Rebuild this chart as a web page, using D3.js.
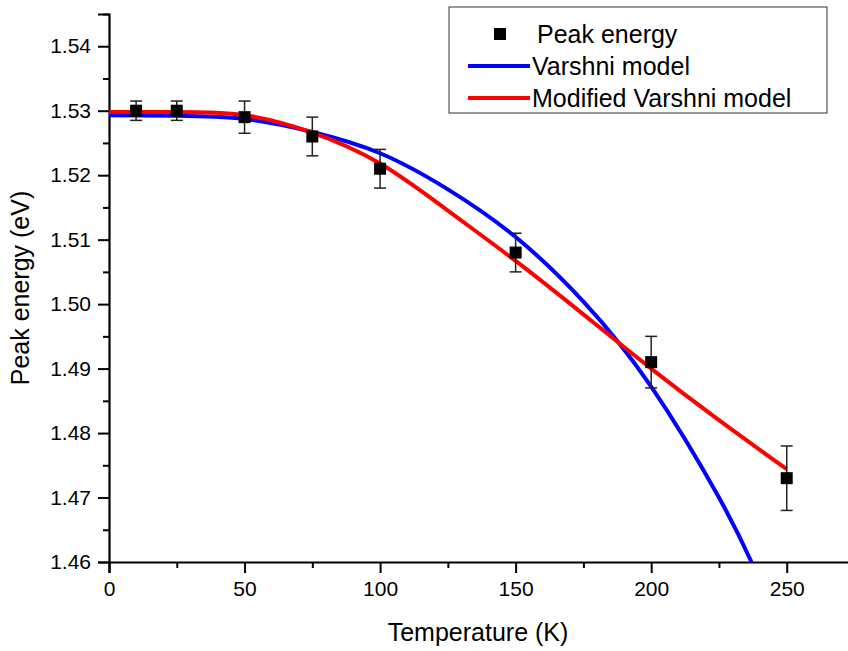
<!DOCTYPE html>
<html>
<head>
<meta charset="utf-8">
<script src="https://cdn.jsdelivr.net/npm/d3@7"></script>
<style>
  body { margin: 0; background: #fff; }
  svg { font-family: Arial, "Liberation Sans", sans-serif; }
</style>
</head>
<body>
<div id="chart"></div>
<script>
// measured peak energies with error bars
const temps = [10, 25, 50, 75, 100, 150, 200, 250];
const peakEnergy = [1.530, 1.530, 1.529, 1.526, 1.521, 1.508, 1.491, 1.473];
const peakErr = [0.0015, 0.0015, 0.0025, 0.003, 0.003, 0.003, 0.004, 0.005];

// fitted curves
const varshniT = [0, 25, 50, 75, 100, 125, 150, 175, 200, 225, 237];
const varshniE = [1.5293, 1.5292, 1.5287, 1.5267, 1.5234, 1.5178, 1.5104, 1.5004,
  1.4872, 1.4700, 1.4600];
const modT = [0, 25, 50, 75, 100, 125, 150, 175, 200, 225, 250];
const modE = [1.5298, 1.5298, 1.5293, 1.5266, 1.5218, 1.5145, 1.5067, 1.4984,
  1.4900, 1.4820, 1.4744];

const xTicks = [0, 50, 100, 150, 200, 250];
const yTicks = [1.46, 1.47, 1.48, 1.49, 1.50, 1.51, 1.52, 1.53, 1.54];

const legendItems = [
  { label: "Peak energy", type: "square", color: "#000" },
  { label: "Varshni model", type: "line", color: "#0000ff" },
  { label: "Modified Varshni model", type: "line", color: "#ff0000" },
];

const width = 848, height = 651;

const svg = d3.select("#chart").append("svg")
  .attr("width", width)
  .attr("height", height);

const x = d3.scaleLinear().domain([0, 275]).range([109, 854.5]);
const y = d3.scaleLinear().domain([1.46, 1.545]).range([562, 14]);

// axes
const xMinor = d3.range(0, 276, 25).filter(d => d % 50 !== 0);
const yMinor = d3.range(1.465, 1.546, 0.01);

const gx = svg.append("g").attr("transform", `translate(0,${y(1.46)})`);
gx.call(d3.axisBottom(x).tickValues(xTicks).tickSize(11).tickPadding(8).tickFormat(d3.format("d")));
gx.append("g").call(d3.axisBottom(x).tickValues(xMinor).tickSize(6).tickFormat(""))
  .select(".domain").remove();

const gy = svg.append("g").attr("transform", `translate(${x(0)},0)`);
gy.call(d3.axisLeft(y).tickValues(yTicks).tickSize(11).tickPadding(7).tickFormat(d3.format(".2f")));
gy.append("g").call(d3.axisLeft(y).tickValues(yMinor).tickSize(6).tickFormat(""))
  .select(".domain").remove();

svg.selectAll(".domain").attr("stroke", "#000").attr("stroke-width", 2.2);
svg.selectAll(".tick line").attr("stroke", "#000").attr("stroke-width", 2);
svg.selectAll(".tick text")
  .attr("fill", "#000")
  .style("font-size", "21px")
  .style("font-family", "Arial, 'Liberation Sans', sans-serif");

// axis titles
svg.append("text")
  .attr("x", 478)
  .attr("y", 641)
  .attr("text-anchor", "middle")
  .style("font-size", "25px")
  .text("Temperature (K)");

svg.append("text")
  .attr("transform", `translate(29,${y(1.5025)}) rotate(-90)`)
  .attr("text-anchor", "middle")
  .style("font-size", "25px")
  .text("Peak energy (eV)");

// curves
const line = d3.line()
  .x(d => x(d[0]))
  .y(d => y(d[1]))
  .curve(d3.curveNatural);

svg.append("path")
  .datum(d3.zip(varshniT, varshniE))
  .attr("fill", "none")
  .attr("stroke", "#0000ff")
  .attr("stroke-width", 4)
  .attr("d", line);

svg.append("path")
  .datum(d3.zip(modT, modE))
  .attr("fill", "none")
  .attr("stroke", "#ff0000")
  .attr("stroke-width", 4)
  .attr("d", line);

// error bars + markers
const pts = temps.map((t, i) => ({ t, e: peakEnergy[i], err: peakErr[i] }));
const capW = 6;

const eb = svg.append("g")
  .attr("stroke", "#222")
  .attr("stroke-width", 1.5)
  .selectAll("g")
  .data(pts)
  .join("g");

eb.append("line")
  .attr("x1", d => x(d.t)).attr("x2", d => x(d.t))
  .attr("y1", d => y(d.e + d.err)).attr("y2", d => y(d.e - d.err));
eb.append("line")
  .attr("x1", d => x(d.t) - capW).attr("x2", d => x(d.t) + capW)
  .attr("y1", d => y(d.e + d.err)).attr("y2", d => y(d.e + d.err));
eb.append("line")
  .attr("x1", d => x(d.t) - capW).attr("x2", d => x(d.t) + capW)
  .attr("y1", d => y(d.e - d.err)).attr("y2", d => y(d.e - d.err));

const sq = 12;
svg.append("g")
  .selectAll("rect")
  .data(pts)
  .join("rect")
  .attr("x", d => x(d.t) - sq / 2)
  .attr("y", d => y(d.e) - sq / 2)
  .attr("width", sq)
  .attr("height", sq)
  .attr("fill", "#000");

// legend
const legend = svg.append("g").attr("transform", "translate(449,7)");
legend.append("rect")
  .attr("width", 378)
  .attr("height", 106)
  .attr("fill", "#fff")
  .attr("stroke", "#333")
  .attr("stroke-width", 1);

const rows = legend.selectAll("g.row")
  .data(legendItems)
  .join("g")
  .attr("class", "row")
  .attr("transform", (d, i) => `translate(0,${27 + i * 32})`);

rows.filter(d => d.type === "square")
  .append("rect")
  .attr("x", 45).attr("y", -6)
  .attr("width", 12).attr("height", 12)
  .attr("fill", d => d.color);

rows.filter(d => d.type === "line")
  .append("line")
  .attr("x1", 19).attr("x2", 81)
  .attr("y1", 0).attr("y2", 0)
  .attr("stroke", d => d.color)
  .attr("stroke-width", 4);

rows.append("text")
  .attr("x", (d, i) => (i === 0 ? 88 : 83))
  .attr("y", 9)
  .style("font-size", "25px")
  .text(d => d.label);
</script>
</body>
</html>
